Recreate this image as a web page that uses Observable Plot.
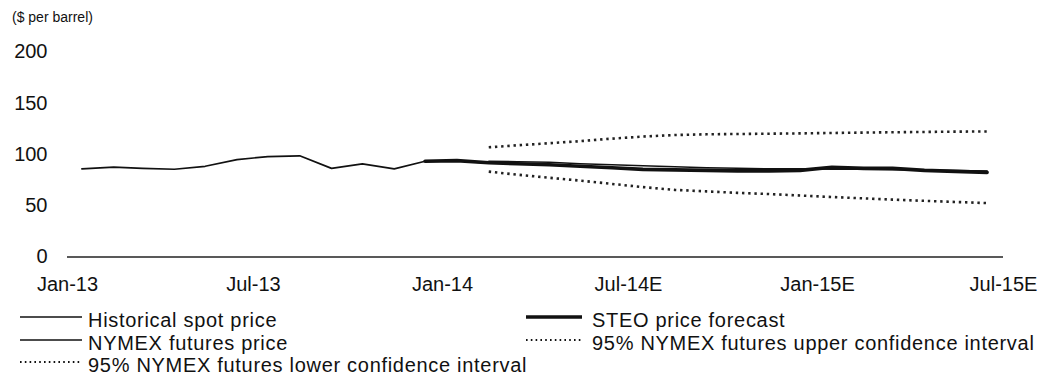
<!DOCTYPE html>
<html>
<head>
<meta charset="utf-8">
<script src="https://cdn.jsdelivr.net/npm/d3@7"></script>
<script src="https://cdn.jsdelivr.net/npm/@observablehq/plot@0.6"></script>
<style>
  body { margin: 0; background: #fff; font-family: "Liberation Sans", Arial, sans-serif; color: #111; }
  #wrap { position: relative; width: 1047px; height: 384px; overflow: hidden; }
  #chart { position: absolute; left: 0; top: 0; }
  #unit { position: absolute; left: 12px; top: 9px; font-size: 14px; line-height: 16px; }
  .item { position: absolute; height: 20px; font-size: 20px; line-height: 20px; letter-spacing: 0.7px; white-space: nowrap; }
  .item svg { position: absolute; left: 0; top: 0; overflow: visible; }
  .item span { position: absolute; top: 0; }
</style>
</head>
<body>
<div id="wrap">
  <div id="chart"></div>
  <div id="unit">($ per barrel)</div>
  <div id="legend"></div>
</div>
<script>
// Monthly WTI crude oil prices ($ per barrel), plotted at mid-month
const histMonths = ["2013-01", "2013-02", "2013-03", "2013-04", "2013-05", "2013-06", "2013-07",
                    "2013-08", "2013-09", "2013-10", "2013-11", "2013-12", "2014-01", "2014-02"];
const histSpot = [86, 87.6, 86.5, 85.6, 88.5, 95, 98, 98.7, 86.5, 90.9, 86, 93.4, 94, 91.5];

const steoMonths = ["2013-12", "2014-01", "2014-02", "2014-03", "2014-04", "2014-05", "2014-06",
                    "2014-07", "2014-08", "2014-09", "2014-10", "2014-11", "2014-12", "2015-01",
                    "2015-02", "2015-03", "2015-04", "2015-05", "2015-06"];
const steoForecast = [93.4, 94, 92, 91, 90, 88.5, 87, 85.5, 85, 84.5, 84, 84, 84.5, 87.5, 86.5, 86.5, 84.5, 83.5, 82.6];

const futMonths = ["2014-02", "2014-03", "2014-04", "2014-05", "2014-06", "2014-07", "2014-08",
                   "2014-09", "2014-10", "2014-11", "2014-12", "2015-01", "2015-02", "2015-03",
                   "2015-04", "2015-05", "2015-06"];
const nymexFutures = [93.5, 93, 92.5, 91, 90, 89, 88, 87, 86.5, 86, 86, 85.5, 85.5, 85, 85, 84.5, 84];
const upperCI = [107, 109, 111, 113, 115.5, 117.5, 119, 119.7, 120, 120.3, 120.6, 121, 121.4, 121.7, 122, 122.3, 122.5];
const lowerCI = [83.3, 80.3, 77.3, 74.5, 71.3, 68.2, 65.5, 64, 62.6, 61.4, 60, 58.5, 57.2, 56, 54.8, 53.7, 52.6];

// Axis ticks
const xTickMonths = ["2013-01", "2013-07", "2014-01", "2014-07", "2015-01", "2015-07"];
const xTickLabels = ["Jan-13", "Jul-13", "Jan-14", "Jul-14E", "Jan-15E", "Jul-15E"];
const yTicks = [0, 50, 100, 150, 200];

const midMonth = m => new Date(m + "-15");
const monthStart = m => new Date(m + "-01");
const rows = (months, values) => months.map((m, i) => ({date: midMonth(m), value: values[i]}));

const xTickDates = xTickMonths.map(monthStart);
const tickLabel = new Map(xTickDates.map((d, i) => [+d, xTickLabels[i]]));

const dotted = {stroke: "#222", strokeWidth: 2.6, strokeDasharray: "2.4,3.8", strokeLinecap: "butt"};

const chart = Plot.plot({
  width: 1047,
  height: 300,
  marginLeft: 67,
  marginRight: 44,
  marginTop: 51.5,
  marginBottom: 43.5,
  style: {fontSize: "20px", fontFamily: "Liberation Sans, Arial, sans-serif", color: "#111", background: "transparent", overflow: "visible"},
  x: {type: "utc", domain: [monthStart("2013-01"), monthStart("2015-07")]},
  y: {domain: [0, 200]},
  marks: [
    Plot.axisY({ticks: yTicks, tickSize: 0, tickPadding: 20, label: null}),
    Plot.axisX({ticks: xTickDates, tickFormat: d => tickLabel.get(+d), tickSize: 0, tickPadding: 20, label: null}),
    Plot.ruleY([0], {stroke: "#222", strokeWidth: 1.6}),
    Plot.line(rows(futMonths, upperCI), {x: "date", y: "value", ...dotted}),
    Plot.line(rows(futMonths, lowerCI), {x: "date", y: "value", ...dotted}),
    Plot.line(rows(histMonths, histSpot), {x: "date", y: "value", stroke: "#111", strokeWidth: 1.7}),
    Plot.line(rows(steoMonths, steoForecast), {x: "date", y: "value", stroke: "#111", strokeWidth: 3.6}),
    Plot.line(rows(futMonths, nymexFutures), {x: "date", y: "value", stroke: "#111", strokeWidth: 1.5})
  ]
});
document.getElementById("chart").appendChild(chart);

// Legend below the plot
const legendItems = [
  {label: "Historical spot price", left: 20, baseline: 327, width: 1.6, dash: null, len: 62, gap: 6},
  {label: "STEO price forecast", left: 526, baseline: 327, width: 3.6, dash: null, len: 56, gap: 10},
  {label: "NYMEX futures price", left: 20, baseline: 350, width: 1.4, dash: null, len: 62, gap: 6},
  {label: "95% NYMEX futures upper confidence interval", left: 526, baseline: 350, width: 2, dash: "1.6,3.2", len: 56, gap: 10},
  {label: "95% NYMEX futures lower confidence interval", left: 20, baseline: 372, width: 2, dash: "1.6,3.2", len: 62, gap: 6}
];
const legend = d3.select("#legend");
for (const it of legendItems) {
  const top = it.baseline - 17;
  const item = legend.append("div").attr("class", "item").style("left", it.left + "px").style("top", top + "px");
  const svg = item.append("svg").attr("width", it.len).attr("height", 20);
  svg.append("line")
    .attr("x1", 0).attr("x2", it.len).attr("y1", 7).attr("y2", 7)
    .attr("stroke", "#111").attr("stroke-width", it.width)
    .attr("stroke-dasharray", it.dash);
  item.append("span").style("left", (it.len + it.gap) + "px").text(it.label);
}
</script>
</body>
</html>
